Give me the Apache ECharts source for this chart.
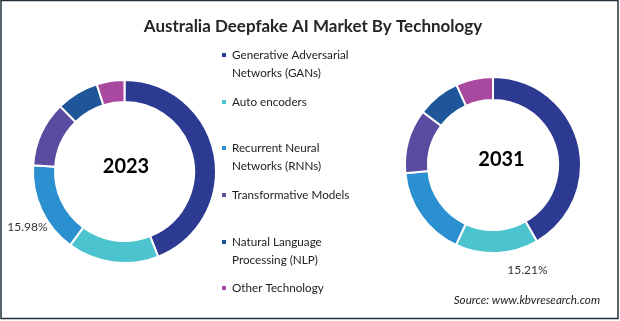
<!DOCTYPE html>
<html>
<head>
<meta charset="utf-8">
<script src="https://cdn.jsdelivr.net/npm/echarts@6/dist/echarts.min.js"></script>
<style>
html,body{margin:0;padding:0;background:#fff;}
#chart{width:620px;height:321px;}
</style>
</head>
<body>
<div id="chart"></div>
<script>
// ---- data ----
const categories = [
  'Generative Adversarial Networks (GANs)',
  'Auto encoders',
  'Recurrent Neural Networks (RNNs)',
  'Transformative Models',
  'Natural Language Processing (NLP)',
  'Other Technology'
];
const legendLabels = [
  'Generative Adversarial\nNetworks (GANs)',
  'Auto encoders',
  'Recurrent Neural\nNetworks (RNNs)',
  'Transformative Models',
  'Natural Language\nProcessing (NLP)',
  'Other Technology'
];
const years = ['2023', '2031'];
const values2023 = [44.0, 16.1, 15.98, 11.5, 7.5, 4.9];
const values2031 = [41.7, 15.21, 16.6, 11.8, 7.9, 6.8];
const labelled2023 = 2;   // index of segment whose share is printed
const labelled2031 = 1;
const colors = ['#2c3a92', '#4cc4cf', '#2a90d0', '#5a4aa0', '#1f5699', '#a8489e'];

const FONT = 'Lato, "Open Sans", sans-serif';
const LH = 18.5;

function buildData(values, labelledIdx) {
  return categories.map((c, i) => ({
    name: c,
    value: values[i],
    label: { show: i === labelledIdx }
  }));
}

// legend slots: vertical centres of first text line
const legendCentres = [55, 102, 148, 195, 242, 288];
const legends = categories.map((c, i) => {
  const twoLine = legendLabels[i].indexOf('\n') >= 0;
  // a leading empty line keeps the marker level with the first text line
  const txt = twoLine ? '\n' + legendLabels[i] : legendLabels[i];
  return {
    data: [c],
    orient: 'vertical',
    left: 220,
    top: twoLine ? legendCentres[i] - 1.5 * LH : legendCentres[i] - 0.5 * LH,
    icon: 'rect',
    itemWidth: 6,
    itemHeight: 6,
    selectedMode: false,
    padding: 0,
    formatter: () => txt,
    textStyle: {
      fontFamily: FONT,
      fontSize: 11.7,
      color: '#222',
      lineHeight: LH
    }
  };
});

const chart = echarts.init(document.getElementById('chart'), null, { renderer: 'canvas' });
chart.setOption({
  animation: false,
  color: colors,
  title: {
    text: 'Australia Deepfake AI Market By Technology',
    left: 308,
    textAlign: 'center',
    top: 13,
    textStyle: { fontFamily: FONT, fontWeight: 'bold', fontSize: 17, color: '#262626' }
  },
  legend: legends,
  graphic: [
    { type: 'rect', shape: { x: 1, y: 0.5, width: 617, height: 318 }, style: { fill: 'none', stroke: '#23303a', lineWidth: 1.5 }, silent: true },
    { type: 'text', x: 126, y: 167, style: { text: years[0], fontFamily: FONT, fontWeight: 'bold', fontSize: 20, fill: '#000', align: 'center', verticalAlign: 'middle' } },
    { type: 'text', x: 501.5, y: 160, style: { text: years[1], fontFamily: FONT, fontWeight: 'bold', fontSize: 20, fill: '#000', align: 'center', verticalAlign: 'middle' } },
    { type: 'text', x: 600, y: 300, style: { text: 'Source: www.kbvresearch.com', fontFamily: FONT, fontStyle: 'italic', fontSize: 11.6, fill: '#222', align: 'right', verticalAlign: 'middle' } }
  ],
  series: [
    {
      type: 'pie',
      name: years[0],
      center: [124.5, 171.5],
      radius: [69.5, 91.5],
      startAngle: 90,
      clockwise: true,
      silent: true,
      avoidLabelOverlap: false,
      itemStyle: { borderColor: '#fff', borderWidth: 2 },
      label: {
        show: false,
        position: 'inside',
        formatter: p => p.value.toFixed(2) + '%',
        fontFamily: FONT, fontSize: 12, color: '#333'
      },
      labelLine: { show: false },
      labelLayout: () => ({ x: 27.5, y: 227, align: 'center', verticalAlign: 'middle' }),
      data: buildData(values2023, labelled2023)
    },
    {
      type: 'pie',
      name: years[1],
      center: [493, 165],
      radius: [65, 88],
      startAngle: 90,
      clockwise: true,
      silent: true,
      avoidLabelOverlap: false,
      itemStyle: { borderColor: '#fff', borderWidth: 2 },
      label: {
        show: false,
        position: 'inside',
        formatter: p => p.value.toFixed(2) + '%',
        fontFamily: FONT, fontSize: 12, color: '#333'
      },
      labelLine: { show: false },
      labelLayout: () => ({ x: 527.5, y: 270, align: 'center', verticalAlign: 'middle' }),
      data: buildData(values2031, labelled2031)
    }
  ]
});
</script>
</body>
</html>
